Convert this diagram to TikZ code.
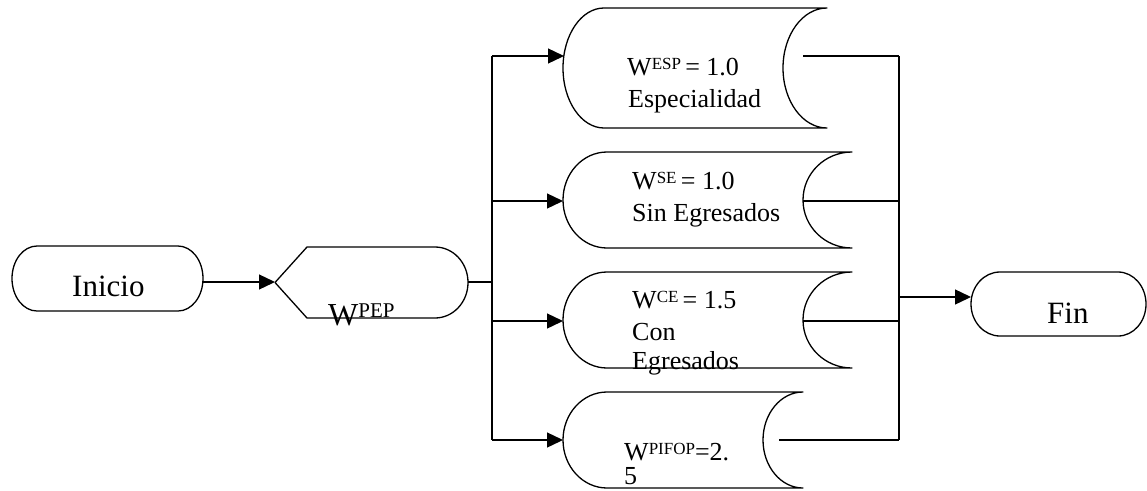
\documentclass[tikz,border=0pt]{standalone}
\usepackage{fontspec}
\setmainfont{Liberation Serif}
\usetikzlibrary{arrows.meta}
\newcommand{\Wsp}[2][17]{W\raisebox{6pt}{\fontsize{#1}{#1}\selectfont #2}}
\begin{document}
\begin{tikzpicture}[x=1pt,y=-1pt,
  shp/.style={line width=1.3pt,line join=round},
  conn/.style={line width=1.3pt},
  arr/.style={conn,-{Triangle[length=16pt,width=15pt]}},
  txt/.style={anchor=base west,inner sep=0pt,font=\fontsize{26}{26}\selectfont},
  big/.style={anchor=base west,inner sep=0pt,font=\fontsize{31}{31}\selectfont}]
\useasboundingbox (0,0) rectangle (1147,490);

% Inicio
\draw[shp] (37,246) -- (178,246) arc[start angle=-90,end angle=90,x radius=25,y radius=32.5]
  -- (37,311) arc[start angle=90,end angle=270,x radius=25,y radius=32.5] -- cycle;
\coordinate (inicio) at (203,282);
\node[big] (tinicio) at (72,296) {Inicio};

% PEP display
\draw[shp] (275,282.5) -- (307,247) -- (435,247) arc[start angle=-90,end angle=90,x radius=33,y radius=35.5]
  -- (307,318) -- cycle;
\coordinate (pepin) at (275,282);
\coordinate (pepout) at (468,282);
\node[anchor=base west,inner sep=0pt,font=\fontsize{32}{32}\selectfont] (tpep) at (328,325) {W\raisebox{8pt}{\fontsize{21}{21}\selectfont PEP}};

% Shape 1
\draw[shp] (604,8) -- (827,8) arc[start angle=-90,end angle=-270,x radius=44,y radius=60]
  -- (604,128) arc[start angle=90,end angle=270,x radius=41,y radius=60] -- cycle;
% Shape 2
\draw[shp] (607,152) -- (852,152) arc[start angle=-90,end angle=-270,x radius=49,y radius=48]
  -- (607,248) arc[start angle=90,end angle=270,x radius=44,y radius=48] -- cycle;
% Shape 3
\draw[shp] (607,272) -- (852,272) arc[start angle=-90,end angle=-270,x radius=49,y radius=48]
  -- (607,368) arc[start angle=90,end angle=270,x radius=44,y radius=48] -- cycle;
% Shape 4
\draw[shp] (607,392) -- (803,392) arc[start angle=-90,end angle=-270,x radius=40,y radius=48]
  -- (607,488) arc[start angle=90,end angle=270,x radius=44,y radius=48] -- cycle;

\coordinate (in1) at (564,56);
\coordinate (in2) at (563,201);
\coordinate (in3) at (563,321);
\coordinate (in4) at (563,440);
\coordinate (out1) at (803,56);
\coordinate (out2) at (803,201);
\coordinate (out3) at (803,321);
\coordinate (out4) at (779,440);

% texts
\node[txt] (t1a) at (627,75) {\Wsp{ESP }= 1.0};
\node[txt] (t1b) at (628,107) {Especialidad};
\node[txt] (t2a) at (632,189) {\Wsp{SE }= 1.0};
\node[txt] (t2b) at (632,221) {Sin Egresados};
\node[txt] (t3a) at (632,308) {\Wsp{CE }= 1.5};
\node[txt] (t3b) at (632,340) {Con};
\node[txt] (t3c) at (632,369) {Egresados};
\node[txt] (t4a) at (624,460) {\Wsp{PIFOP}=2.};
\node[txt] (t4b) at (624,484) {5};

% Fin
\draw[shp] (1000,272) -- (1118,272) arc[start angle=-90,end angle=90,x radius=28,y radius=32]
  -- (1000,336) arc[start angle=90,end angle=270,x radius=29,y radius=32] -- cycle;
\coordinate (fin) at (971,297);
\node[big] (tfin) at (1047,323) {Fin};

% buses
\coordinate (bl1) at (492,56);
\coordinate (bl2) at (492,201);
\coordinate (bl3) at (492,321);
\coordinate (bl4) at (492,440);
\coordinate (blm) at (492,282);
\coordinate (br1) at (899,56);
\coordinate (br2) at (899,201);
\coordinate (br3) at (899,321);
\coordinate (br4) at (899,440);
\coordinate (brm) at (899,297);

% connectors
\draw[arr] (inicio) -- (pepin);
\draw[conn] (pepout) -- (blm);
\draw[conn] (bl1) -- (bl4);
\draw[arr] (bl1) -- (in1);
\draw[arr] (bl2) -- (in2);
\draw[arr] (bl3) -- (in3);
\draw[arr] (bl4) -- (in4);
\draw[conn] (out1) -- (br1);
\draw[conn] (out2) -- (br2);
\draw[conn] (out3) -- (br3);
\draw[conn] (out4) -- (br4);
\draw[conn] (br1) -- (br4);
\draw[arr] (brm) -- (fin);
\end{tikzpicture}
\end{document}
